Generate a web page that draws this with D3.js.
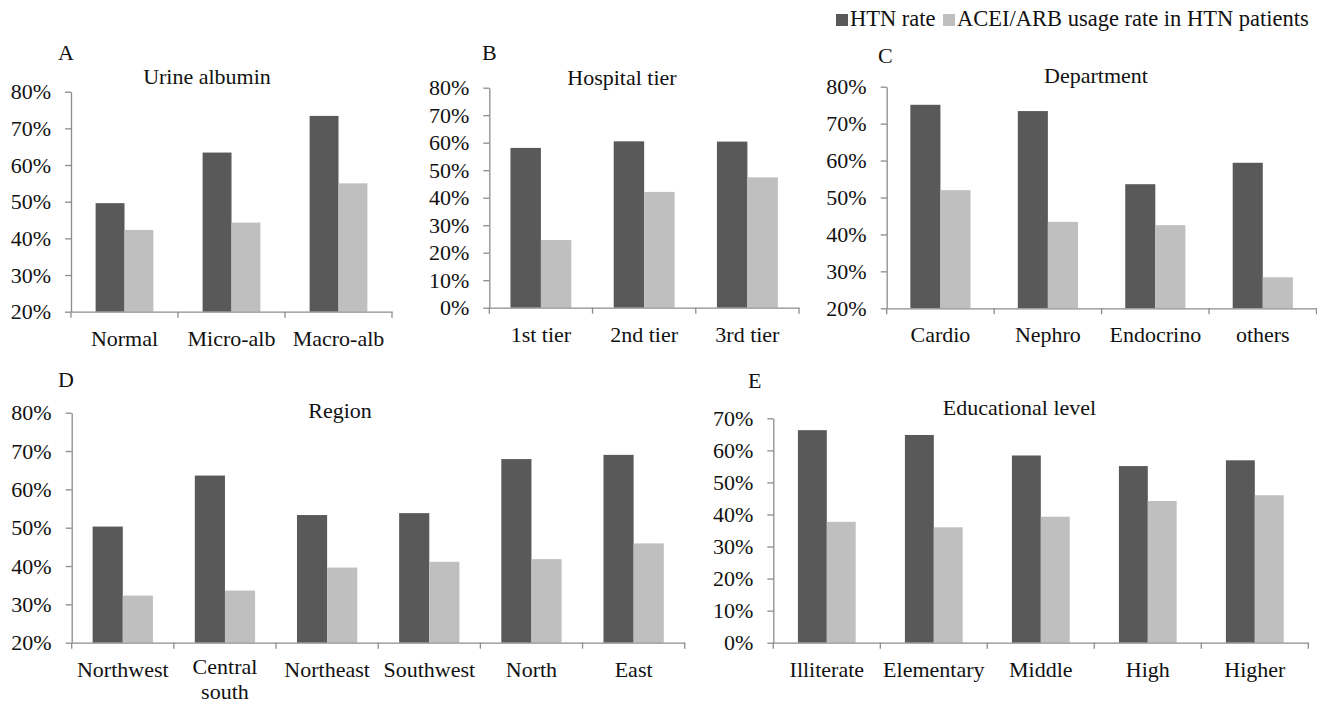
<!DOCTYPE html>
<html><head><meta charset="utf-8">
<script src="https://cdn.jsdelivr.net/npm/d3@7"></script>
<style>
body{margin:0;background:#fff}
svg{display:block}
text{font-family:"Liberation Serif","Times New Roman",serif;fill:#111}
</style>
</head><body>
<svg id="chart" width="1317" height="704"></svg>
<script>
// ---------------- data ----------------
const seriesNames = ["HTN rate", "ACEI/ARB usage rate in HTN patients"];

const urineCategories = ["Normal", "Micro-alb", "Macro-alb"];
const urineHTN  = [0.496, 0.634, 0.734];
const urineACEI = [0.423, 0.443, 0.550];

const tierCategories = ["1st tier", "2nd tier", "3rd tier"];
const tierHTN  = [0.581, 0.605, 0.604];
const tierACEI = [0.246, 0.421, 0.474];

const deptCategories = ["Cardio", "Nephro", "Endocrino", "others"];
const deptHTN  = [0.751, 0.734, 0.536, 0.594];
const deptACEI = [0.520, 0.434, 0.425, 0.284];

const regionCategories = ["Northwest", "Central south", "Northeast", "Southwest", "North", "East"];
const regionHTN  = [0.503, 0.636, 0.533, 0.538, 0.679, 0.690];
const regionACEI = [0.323, 0.336, 0.396, 0.411, 0.418, 0.459];

const eduCategories = ["Illiterate", "Elementary", "Middle", "High", "Higher"];
const eduHTN  = [0.663, 0.648, 0.584, 0.551, 0.569];
const eduACEI = [0.377, 0.360, 0.393, 0.442, 0.460];

const ticks20to80 = [0.2, 0.3, 0.4, 0.5, 0.6, 0.7, 0.8];
const ticks0to80  = [0, 0.1, 0.2, 0.3, 0.4, 0.5, 0.6, 0.7, 0.8];
const ticks0to70  = [0, 0.1, 0.2, 0.3, 0.4, 0.5, 0.6, 0.7];

const panelLetters = ["A", "B", "C", "D", "E"];
const panelTitles  = ["Urine albumin", "Hospital tier", "Department", "Region", "Educational level"];

// ---------------- style / layout ----------------
const colors = ["#595959", "#bfbfbf"];
const axisColor = "#8c8c8c";
const fontSize = 22;

const layout = [
  {left: 71,    right: 392,    top: 91.7,  bottom: 311.7, letter: [58, 60],   title: [207, 84],    frac: 0.54},
  {left: 489.3, right: 799,    top: 87.7,  bottom: 307.7, letter: [482, 60],  title: [622, 85],    frac: 0.59},
  {left: 886.7, right: 1316.5, top: 86.7,  bottom: 308.3, letter: [878, 63],  title: [1096, 83],   frac: 0.56},
  {left: 71.7,  right: 684.7,  top: 412.7, bottom: 642.7, letter: [58, 387],  title: [340, 418],   frac: 0.59},
  {left: 773.3, right: 1308.3, top: 418.3, bottom: 642.7, letter: [748, 388], title: [1019.5, 415], frac: 0.54}
];

const panels = [
  {cats: urineCategories,  s: [urineHTN, urineACEI],   ticks: ticks20to80},
  {cats: tierCategories,   s: [tierHTN, tierACEI],     ticks: ticks0to80},
  {cats: deptCategories,   s: [deptHTN, deptACEI],     ticks: ticks20to80},
  {cats: regionCategories, s: [regionHTN, regionACEI], ticks: ticks20to80},
  {cats: eduCategories,    s: [eduHTN, eduACEI],       ticks: ticks0to70}
];

const svg = d3.select("#chart");
const fmt = d3.format(".0%");
const serif = '"Liberation Serif","Times New Roman",serif';

panels.forEach((p, i) => {
  const L = layout[i];
  const g = svg.append("g");
  const ticks = p.ticks;
  const y = d3.scaleLinear().domain([ticks[0], ticks[ticks.length - 1]]).range([L.bottom, L.top]);
  const x0 = d3.scaleBand().domain(p.cats).range([L.left, L.right]).paddingInner(0).paddingOuter(0);
  const bw = x0.bandwidth();
  const x1 = d3.scaleBand().domain([0, 1]).range([bw * (1 - L.frac) / 2, bw * (1 + L.frac) / 2]).padding(0);

  // bars
  p.cats.forEach((c, ci) => {
    [0, 1].forEach(si => {
      const v = p.s[si][ci];
      g.append("rect")
        .attr("x", x0(c) + x1(si))
        .attr("y", y(v))
        .attr("width", x1.bandwidth())
        .attr("height", y(ticks[0]) - y(v))
        .attr("fill", colors[si]);
    });
  });

  // y axis
  const ya = g.append("g").attr("transform", `translate(${L.left},0)`)
    .call(d3.axisLeft(y).tickValues(ticks).tickFormat(fmt).tickSize(6).tickSizeOuter(0).tickPadding(14));
  ya.selectAll("path,line").attr("stroke", axisColor).attr("stroke-width", 1.3);
  ya.selectAll("text").attr("font-size", fontSize).attr("fill", "#111").style("font-family", serif);

  // x axis
  const xa = g.append("g").attr("transform", `translate(0,${L.bottom})`)
    .call(d3.axisBottom(x0).tickSize(0).tickSizeOuter(0).tickPadding(0));
  xa.selectAll("path").attr("stroke", axisColor).attr("stroke-width", 1.3);
  xa.selectAll("text").remove();
  xa.selectAll(".tick").each(function(c) {
    const t = d3.select(this).append("text")
      .attr("text-anchor", "middle").attr("font-size", fontSize).attr("fill", "#111")
      .style("font-family", serif);
    const parts = c.split(" ");
    if (c === "Central south") {
      t.append("tspan").attr("x", 0).attr("y", 31).text(parts[0]);
      t.append("tspan").attr("x", 0).attr("y", 56).text(parts[1]);
    } else {
      t.attr("y", 34).text(c);
    }
  });
  const seps = p.cats.map(c => x0(c)).concat([x0.range()[1]]);
  xa.selectAll("line.sep").data(seps).join("line").attr("class", "sep")
    .attr("x1", d => d).attr("x2", d => d).attr("y1", 0).attr("y2", 6)
    .attr("stroke", axisColor).attr("stroke-width", 1.3);

  // letter & title
  g.append("text").attr("x", L.letter[0]).attr("y", L.letter[1]).attr("font-size", fontSize).text(panelLetters[i]);
  g.append("text").attr("x", L.title[0]).attr("y", L.title[1]).attr("text-anchor", "middle")
    .attr("font-size", fontSize).text(panelTitles[i]);
});

// legend
const legendPos = [836, 943];
const lg = svg.append("g");
seriesNames.forEach((n, i) => {
  lg.append("rect").attr("x", legendPos[i]).attr("y", 14).attr("width", 12).attr("height", 12).attr("fill", colors[i]);
  lg.append("text").attr("x", legendPos[i] + 14).attr("y", 26).attr("font-size", 22.5).text(n);
});
</script>
</body></html>
